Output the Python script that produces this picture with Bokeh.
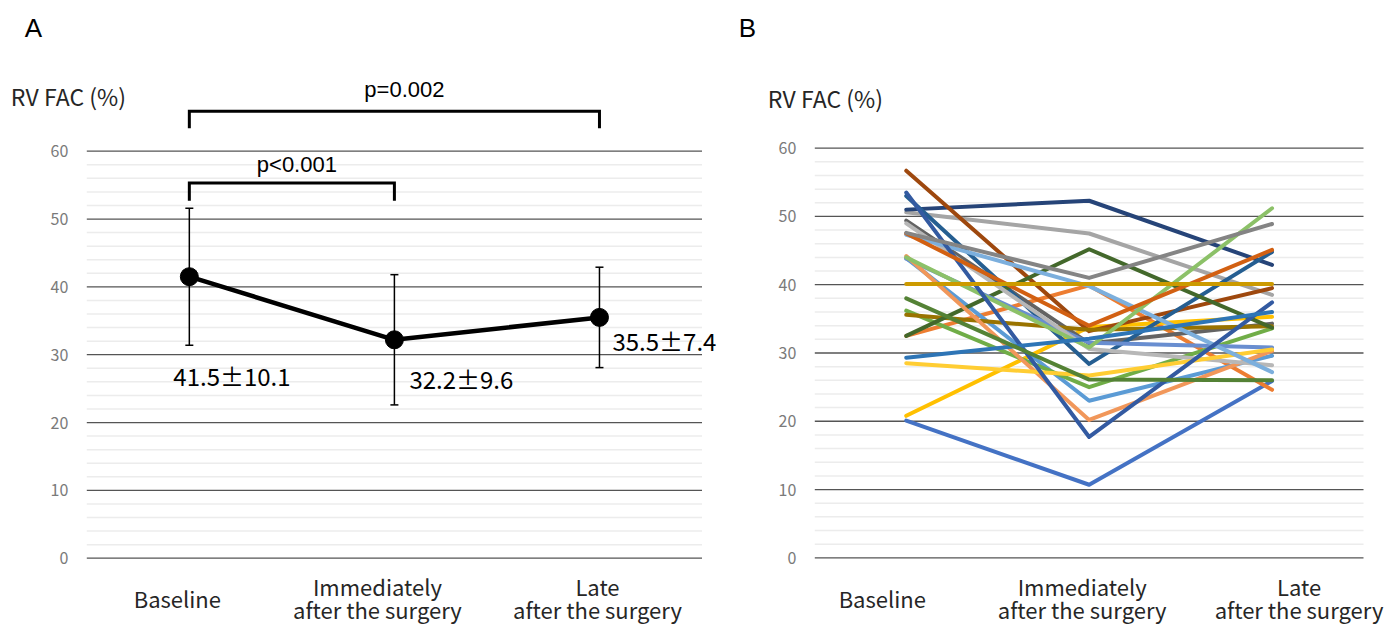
from bokeh.plotting import figure
from bokeh.models import ColumnDataSource, LabelSet, Label, Range1d
from bokeh.layouts import row
from bokeh.embed import file_html
from bokeh.resources import INLINE
from bokeh.core.properties import value

# ---------------- data ----------------
categories = ["Baseline", "Immediately\nafter the surgery", "Late\nafter the surgery"]
y_ticks = [0, 10, 20, 30, 40, 50, 60]
y_tick_labels = ["0", "10", "20", "30", "40", "50", "60"]
y_minor_ticks = [2, 4, 6, 8, 12, 14, 16, 18, 22, 24, 26, 28, 32, 34, 36, 38,
                 42, 44, 46, 48, 52, 54, 56, 58]
axis_title = "RV FAC (%)"
panel_letters = ["A", "B"]

# Panel A: mean +/- SD
mean_fac = [41.5, 32.2, 35.5]
sd_fac = [10.1, 9.6, 7.4]
mean_sd_text = ["41.5\u00b110.1", "32.2\u00b19.6", "35.5\u00b17.4"]

# significance brackets (category index pairs, bracket height, leg end, p text)
cmp_from = [0, 0]
cmp_to = [1, 2]
cmp_top = [55.3, 65.9]
cmp_leg = [52.7, 63.4]
cmp_text = ["p<0.001", "p=0.002"]
cmp_text_y = [58.1, 69.1]

# Panel B: individual patients (baseline, immediately after, late after)
patient_colors = ["#4472C4", "#ED7D31", "#A5A5A5", "#FFC000", "#5B9BD5", "#70AD47",
                  "#264478", "#9E480E", "#636363", "#997300", "#255E91", "#43682B",
                  "#698ED0", "#F1975A", "#B7B7B7", "#FFCD33", "#7CAFDD", "#8CC168",
                  "#335AA1", "#D26012", "#848484", "#CC9A00", "#2E75B6", "#548235"]
patient_baseline = [20.1, 32.5, 50.6, 20.8, 43.9, 36.2, 51.0, 56.7, 49.4, 35.6, 53.0, 32.5,
                    43.8, 44.2, 49.0, 28.5, 47.3, 44.0, 53.5, 47.5, 47.6, 40.1, 29.3, 38.0]
patient_immediate = [10.7, 39.9, 47.5, 33.8, 23.0, 25.0, 52.3, 33.2, 31.4, 33.4, 28.4, 45.2,
                     31.5, 20.2, 30.6, 26.7, 39.8, 30.8, 17.7, 34.0, 41.0, 40.1, 32.1, 26.1]
patient_late = [25.9, 24.6, 38.5, 35.3, 29.6, 33.6, 42.9, 39.5, 34.3, 33.9, 44.8, 33.7,
                30.8, 30.3, 28.2, 30.5, 27.2, 51.2, 37.4, 45.1, 48.9, 40.1, 36.0, 26.0]

# ---------------- style / geometry ----------------
JP = "Noto Sans CJK JP"
SANS = "Liberation Sans"
H = 628
W_A, W_B = 728, 658
cat_x = [i + 0.5 for i in range(len(categories))]   # categorical slots 0..3


def make_fig(width, left_px, plot_px, zero_px, unit_px):
    """Frame = whole canvas; the 0..3 category band starts left_px from the
    left edge and is plot_px wide."""
    per = plot_px / 3.0
    x_lo = -left_px / per
    x_hi = (width - left_px) / per
    y_hi = zero_px / unit_px
    y_lo = -(H - zero_px) / unit_px
    p = figure(width=width, height=H, x_range=Range1d(x_lo, x_hi),
               y_range=Range1d(y_lo, y_hi), x_axis_location=None, y_axis_location=None,
               output_backend="svg", toolbar_location=None,
               min_border_left=0, min_border_right=0,
               min_border_top=0, min_border_bottom=0)
    p.outline_line_color = None
    p.background_fill_color = "white"
    p.border_fill_color = "white"
    p.grid.visible = False
    p.segment(x0=[0] * len(y_minor_ticks), x1=[3] * len(y_minor_ticks),
              y0=y_minor_ticks, y1=y_minor_ticks, line_color="#ececec", line_width=1.5)
    p.segment(x0=[0] * len(y_ticks), x1=[3] * len(y_ticks), y0=y_ticks, y1=y_ticks,
              line_color="#555555", line_width=1.3)
    p.text(x=[0] * len(y_ticks), y=y_ticks, text=y_tick_labels, x_offset=-18.5,
           text_font=value(JP), text_font_size="16px", text_color="#7a7a7a",
           text_align="right", text_baseline="middle")
    return p


def add_texts(p, letter, letter_dx, letter_dy, title_dx, title_dy, cat_dx):
    p.add_layout(Label(x=0, y=60, x_offset=letter_dx, y_offset=letter_dy, text=letter,
                       text_font=SANS, text_font_size="26px", text_color="black",
                       text_baseline="middle", text_align="left"))
    p.add_layout(Label(x=0, y=60, x_offset=title_dx, y_offset=title_dy, text=axis_title,
                       text_font=JP, text_font_size="23px", text_color="#262626",
                       text_baseline="middle", text_align="left"))
    # category labels, one row per text line, each line centred
    xs, texts, dxs, dys = [], [], [], []
    for x, cat, dx in zip(cat_x, categories, cat_dx):
        lines = cat.split("\n")
        line_dy = [-39.8] if len(lines) == 1 else [-27.8, -50.8]
        for ln, dy in zip(lines, line_dy):
            xs.append(x)
            texts.append(ln)
            dxs.append(dx)
            dys.append(dy)
    cat_src = ColumnDataSource(dict(x=xs, y=[0] * len(xs), text=texts, dx=dxs, dy=dys))
    p.add_layout(LabelSet(source=cat_src, x="x", y="y", text="text", x_offset="dx",
                          y_offset="dy", text_font=value(JP), text_font_size="22px",
                          text_color="#262626", text_align="center",
                          text_baseline="middle"))


# ---------------- Panel A ----------------
pa = make_fig(W_A, 86.3, 615.2, 557.7, 6.783)

upper = [m + s for m, s in zip(mean_fac, sd_fac)]
lower = [m - s for m, s in zip(mean_fac, sd_fac)]
src_a = ColumnDataSource(dict(
    x=cat_x, mean=mean_fac, upper=upper, lower=lower,
    text=mean_sd_text, dx=[-16, 15, 13], dy=[-99.2, -38.8, -23.5]))

# error bars
pa.segment(x0="x", x1="x", y0="lower", y1="upper", source=src_a,
           line_color="black", line_width=1.5)
pa.scatter(x=cat_x + cat_x, y=upper + lower, marker="dash", size=8,
           line_color="black", line_width=1.5)
pa.line(x="x", y="mean", source=src_a, line_color="black", line_width=4.5)
pa.scatter(x="x", y="mean", source=src_a, size=18, fill_color="black", line_color="black")
pa.add_layout(LabelSet(source=src_a, x="x", y="mean", text="text", x_offset="dx",
                       y_offset="dy", text_font=value(JP), text_font_size="24px",
                       text_color="black", text_align="left", text_baseline="middle"))

# brackets
br_xs, br_ys = [], []
for i, j, top, leg in zip(cmp_from, cmp_to, cmp_top, cmp_leg):
    br_xs.append([cat_x[i], cat_x[i], cat_x[j], cat_x[j]])
    br_ys.append([leg, top, top, leg])
pa.multi_line(xs=br_xs, ys=br_ys, line_color="black", line_width=3, line_join="miter")
p_src = ColumnDataSource(dict(
    x=[(cat_x[i] + cat_x[j]) / 2 for i, j in zip(cmp_from, cmp_to)],
    y=cmp_text_y, text=cmp_text, dx=[5, 10]))
pa.add_layout(LabelSet(source=p_src, x="x", y="y", text="text", x_offset="dx",
                       text_font=value(SANS), text_font_size="22px", text_color="black",
                       text_align="center", text_baseline="middle"))

add_texts(pa, panel_letters[0], -62, 123, -76, 55, [-12, -17, -2])

# ---------------- Panel B ----------------
pb = make_fig(W_B, 814.3 - W_A, 548.7, 557.3, 6.827)
for col, b0, b1, b2 in zip(patient_colors, patient_baseline, patient_immediate, patient_late):
    pb.line(x=cat_x, y=[b0, b1, b2], line_color=col, line_width=4,
            line_join="round", line_cap="round")

add_texts(pb, panel_letters[1], -76, 120, -47, 50, [-24, -7, 27])

layout = row(pa, pb, spacing=0)
open("out.html", "w").write(file_html(layout, INLINE))
